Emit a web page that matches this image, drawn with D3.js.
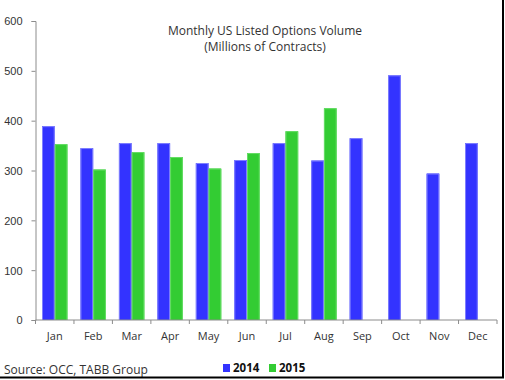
<!DOCTYPE html>
<html>
<head>
<meta charset="utf-8">
<script src="https://cdn.jsdelivr.net/npm/d3@7"></script>
<style>
  body { margin: 0; background: #fff; }
  svg { display: block; font-family: "Open Sans", sans-serif; }
  .axis path, .axis line { stroke: #8c8c8c; }
  .axis text { fill: #333; font-size: 11px; }
</style>
</head>
<body>
<svg width="505" height="380"></svg>
<script>
// data
var months = ["Jan","Feb","Mar","Apr","May","Jun","Jul","Aug","Sep","Oct","Nov","Dec"];
var years = ["2014", "2015"];
var vol2014 = [389, 345, 355, 355, 315, 321, 355, 320, 365, 491, 294, 355];
var vol2015 = [353, 302, 337, 327, 304, 335, 379, 425, null, null, null, null];
var yTicks = [0, 100, 200, 300, 400, 500, 600];
var colors = {"2014": "#3333ff", "2015": "#33cc33"};
var strokes = {"2014": "#8080ff", "2015": "#66dd66"};

var svg = d3.select("svg"),
    margin = {top: 21, right: 8, bottom: 60, left: 35.5},
    width = 497 - margin.left,
    height = 320 - margin.top,
    chartGroup = svg.append("g").attr("transform", "translate(" + margin.left + "," + margin.top + ")");

var rows = months.map(function(m, i) {
  return {month: m, values: [{year: "2014", v: vol2014[i]}, {year: "2015", v: vol2015[i]}]};
});

var xScale = d3.scaleBand().domain(months).range([0, width]).paddingInner(0).paddingOuter(0);
var xInner = d3.scaleBand().domain(years).range([6.5, xScale.bandwidth() - 6.5]);
var yScale = d3.scaleLinear().domain([0, 600]).range([height, 0]);

var month = chartGroup.selectAll(".month")
  .data(rows)
  .enter().append("g")
    .attr("class", "month")
    .attr("transform", function(d) { return "translate(" + xScale(d.month) + ",0)"; });

month.selectAll("rect")
  .data(function(d) { return d.values.filter(function(e) { return e.v != null; }); })
  .enter().append("rect")
    .attr("x", function(d) { return xInner(d.year); })
    .attr("width", xInner.bandwidth())
    .attr("y", function(d) { return yScale(d.v); })
    .attr("height", function(d) { return height - yScale(d.v); })
    .style("fill", function(d) { return colors[d.year]; });

month.selectAll("line.edge")
  .data(function(d) { return d.values.filter(function(e) { return e.v != null; }); })
  .enter().append("path")
    .attr("class", "edge")
    .attr("d", function(d) {
      var x0 = xInner(d.year) + 0.5, x1 = xInner(d.year) + xInner.bandwidth() - 0.5, y0 = yScale(d.v) + 0.5;
      return "M" + x0 + "," + height + "V" + y0 + "H" + x1 + "V" + height;
    })
    .style("fill", "none")
    .style("stroke", function(d) { return strokes[d.year]; })
    .style("stroke-width", 1);

chartGroup.append("g")
  .attr("class", "axis axis--y")
  .call(d3.axisLeft(yScale).tickValues(yTicks).tickSize(4).tickSizeOuter(4).tickPadding(9))
  .selectAll("text").attr("dy", "0.35em");

var xAxis = chartGroup.append("g")
  .attr("class", "axis axis--x")
  .attr("transform", "translate(0," + height + ")");
xAxis.append("line").attr("x1", 0).attr("x2", width).style("stroke", "#8c8c8c");
xAxis.selectAll(".tk")
  .data(d3.range(months.length + 1))
  .enter().append("line")
    .attr("x1", function(i) { return i * xScale.step(); })
    .attr("x2", function(i) { return i * xScale.step(); })
    .attr("y2", 4)
    .style("stroke", "#8c8c8c");
xAxis.selectAll("text")
  .data(months)
  .enter().append("text")
    .attr("x", function(d) { return xScale(d) + xScale.bandwidth() / 2; })
    .attr("y", 16)
    .attr("dy", "0.35em")
    .attr("text-anchor", "middle")
    .text(function(d) { return d; });

// title
var title = svg.append("text")
  .attr("x", 265)
  .attr("text-anchor", "middle")
  .style("font-size", "12px")
  .style("fill", "#333");
title.append("tspan").attr("x", 265).attr("y", 35).text("Monthly US Listed Options Volume");
title.append("tspan").attr("x", 265).attr("y", 51).text("(Millions of Contracts)");

// source
svg.append("text")
  .attr("x", 4)
  .attr("y", 374)
  .style("font-size", "12px")
  .style("fill", "#333")
  .text("Source: OCC, TABB Group");

// legend
var legend = svg.selectAll(".legend")
  .data(years)
  .enter().append("g")
    .attr("class", "legend")
    .attr("transform", function(d, i) { return "translate(" + (223 + i * 46) + ",364)"; });
legend.append("rect").attr("width", 7).attr("height", 8).style("fill", function(d) { return colors[d]; });
legend.append("text")
  .attr("x", 10).attr("y", 8)
  .style("font-size", "11.5px").style("font-weight", "bold").style("fill", "#111")
  .text(function(d) { return d; });

// frame edge (right and bottom)
svg.append("path")
  .attr("d", "M503,0V377.5H0")
  .style("fill", "none")
  .style("stroke", "#000")
  .style("stroke-width", 2);
</script>
</body>
</html>
